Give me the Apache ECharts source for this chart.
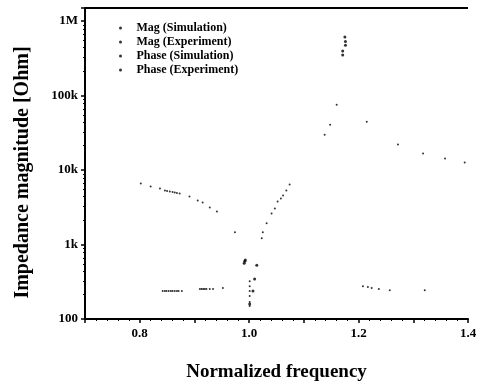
<!DOCTYPE html>
<html>
<head>
<meta charset="utf-8">
<script src="https://cdn.jsdelivr.net/npm/echarts@6/dist/echarts.min.js"></script>
<style>
  html, body { margin: 0; padding: 0; background: #fff; }
  #chart { width: 481px; height: 387px; }
</style>
</head>
<body>
<div id="chart"></div>
<script>
// values (impedance in Ohm, log axis)
const seriesNames = ['Mag (Simulation)', 'Mag (Experiment)', 'Phase (Simulation)', 'Phase (Experiment)'];
const yTickLabels = { 100: '100', 1000: '1k', 10000: '10k', 100000: '100k', 1000000: '1M' };
const xTickLabels = ['0.8', '1.0', '1.2', '1.4'];
const yTop = 1.49e6;

const magSimX = [0.802, 0.820, 0.837, 0.846, 0.850, 0.855, 0.860, 0.864, 0.868, 0.873, 0.891, 0.906, 0.915, 0.928, 0.941, 0.974,
  1.023, 1.025, 1.032, 1.041, 1.047, 1.052, 1.058, 1.062, 1.068, 1.074, 1.138, 1.148, 1.160, 1.215, 1.272, 1.318, 1.358, 1.394];
const magSimY = [6580, 6000, 5640, 5300, 5220, 5150, 5070, 4990, 4910, 4830, 4400, 3900, 3660, 3140, 2780, 1460,
  1210, 1460, 1920, 2610, 3050, 3780, 4150, 4550, 5300, 6380, 29700, 40400, 74800, 44400, 21900, 16600, 14200, 12600];

const magExpX = [0.991, 0.992, 0.993, 1.001, 1.007, 1.010, 1.014, 1.171, 1.171, 1.176, 1.176, 1.175];
const magExpY = [560, 596, 620, 159, 237, 343, 527, 350000, 395000, 470000, 530000, 607000];

const phaseSimX = [0.842, 0.846, 0.849, 0.853, 0.857, 0.860, 0.864, 0.868, 0.871, 0.877, 0.910, 0.913, 0.916, 0.919, 0.922, 0.928, 0.934, 0.952];
const phaseSimY = [237, 237, 237, 237, 237, 237, 237, 237, 237, 237, 252, 252, 252, 252, 252, 252, 252, 260];

const phaseExpX = [1.001, 1.001, 1.001, 1.001, 1.001, 1.001, 1.208, 1.217, 1.224, 1.237, 1.257, 1.321];
const phaseExpY = [322, 276, 237, 203, 169, 149, 276, 268, 260, 252, 244, 244];

const toPairs = (xs, ys) => xs.map((x, i) => [x, ys[i]]);
const seriesData = [
  toPairs(magSimX, magSimY),
  toPairs(magExpX, magExpY),
  toPairs(phaseSimX, phaseSimY),
  toPairs(phaseExpX, phaseExpY)
];

const chart = echarts.init(document.getElementById('chart'));
const font = 'Liberation Serif';

const option = {
  backgroundColor: '#fff',
  animation: false,
  grid: { left: 85, right: 13, top: 8, bottom: 67 },
  legend: {
    orient: 'vertical',
    left: 114,
    top: 17,
    itemWidth: 22,
    itemHeight: 3,
    itemGap: 2,
    icon: 'circle',
    data: seriesNames,
    textStyle: { fontFamily: font, fontSize: 12, fontWeight: 'bold', color: '#000' }
  },
  xAxis: {
    type: 'value',
    min: 0.7,
    max: 1.4,
    interval: 0.1,
    name: 'Normalized frequency',
    nameLocation: 'middle',
    nameGap: 44,
    nameTextStyle: { fontFamily: font, fontSize: 19, fontWeight: 'bold', color: '#000' },
    axisLine: { lineStyle: { color: '#000', width: 2 } },
    axisTick: { inside: false, length: 4, lineStyle: { color: '#000', width: 1.5 } },
    minorTick: { show: true, splitNumber: 5, length: 2, lineStyle: { color: '#000' } },
    splitLine: { show: false },
    axisLabel: {
      fontFamily: font, fontSize: 13, fontWeight: 'bold', color: '#000', margin: 8,
      formatter: v => {
        const s = v.toFixed(1);
        return xTickLabels.includes(s) ? s : '';
      }
    }
  },
  yAxis: {
    type: 'log',
    min: 100,
    max: yTop,
    logBase: 10,
    name: 'Impedance magnitude [Ohm]',
    nameLocation: 'middle',
    nameGap: 52,
    nameTextStyle: { fontFamily: font, fontSize: 20, fontWeight: 'bold', color: '#000', padding: [0, 18, 0, 0] },
    axisLine: { show: true, lineStyle: { color: '#000', width: 2 } },
    axisTick: { inside: false, length: 4, lineStyle: { color: '#000', width: 1.5 } },
    minorTick: { show: true, splitNumber: 8, length: 2, lineStyle: { color: '#000' } },
    splitLine: { show: false },
    axisLabel: {
      fontFamily: font, fontSize: 13, fontWeight: 'bold', color: '#000', margin: 7,
      formatter: v => {
        const k = Math.round(v);
        return yTickLabels[k] !== undefined && Math.abs(v - k) < 1e-6 * k ? yTickLabels[k] : '';
      }
    }
  },
  series: seriesNames.map((name, i) => ({
    name,
    type: 'scatter',
    data: seriesData[i],
    symbol: 'circle',
    symbolSize: i === 1 ? 3 : 2,
    itemStyle: { color: '#000' },
    // top frame line of the plot
    markLine: i === 0 ? {
      silent: true,
      symbol: ['none', 'none'],
      label: { show: false },
      lineStyle: { color: '#000', width: 2, type: 'solid' },
      data: [{ yAxis: yTop }]
    } : undefined
  }))
};

chart.setOption(option);
</script>
</body>
</html>
